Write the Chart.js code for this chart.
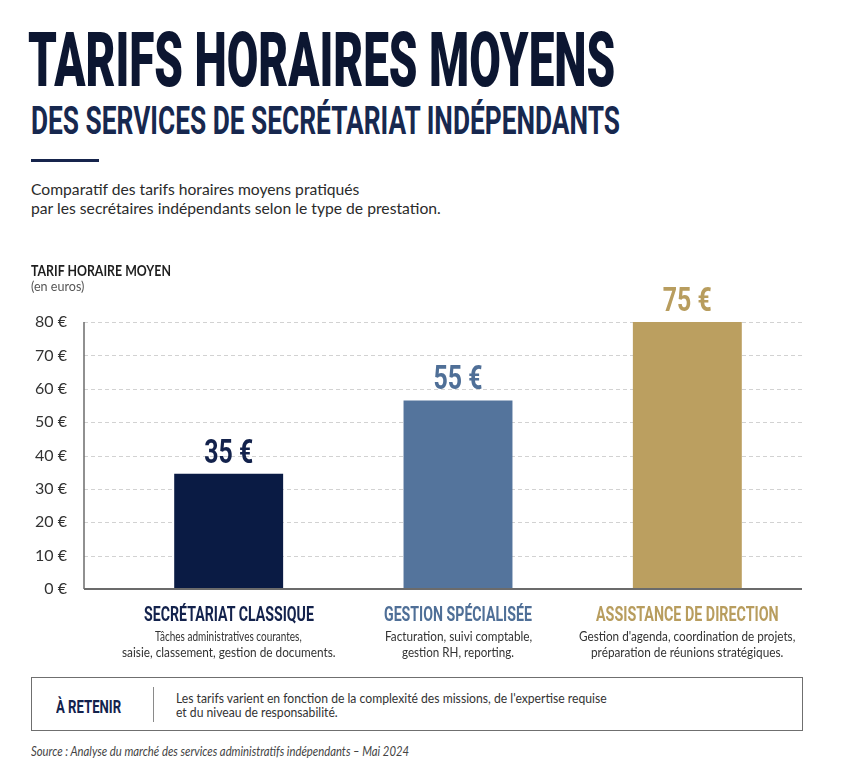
<!DOCTYPE html>
<html>
<head>
<meta charset="utf-8">
<script src="https://cdn.jsdelivr.net/npm/chart.js@4.4.1/dist/chart.umd.min.js"></script>
<style>
  html, body { margin: 0; padding: 0; background: #fff; }
  body { width: 841px; height: 768px; position: relative; overflow: hidden; font-family: Lato, sans-serif; }
  .t { position: absolute; white-space: nowrap; line-height: 1; transform-origin: 0 0; }
  .mark { display: inline-block; width: 0; height: 0; vertical-align: baseline; }
  #wrap { position: absolute; left: 0; top: 250px; width: 841px; height: 410px; }
  #rule { position: absolute; left: 31px; top: 159px; width: 68px; height: 3px; background: #16244c; }
  #box { position: absolute; left: 31px; top: 677px; width: 770px; height: 52px; border: 1.5px solid #6f6f6f; }
  #divider { position: absolute; left: 153px; top: 687px; width: 1px; height: 35px; background: #8a8a8a; }
</style>
</head>
<body>
<div id="rule"></div>
<div id="box"></div>
<div id="divider"></div>
<div id="wrap"><canvas id="chart" width="841" height="410"></canvas></div>
<script>
  // data
  const categories = ["SECRÉTARIAT CLASSIQUE", "GESTION SPÉCIALISÉE", "ASSISTANCE DE DIRECTION"];
  const barValues = [34.5, 56.5, 80];
  const valueLabels = ["35 €", "55 €", "75 €"];
  const descriptions = [
    ["Tâches administratives courantes,", "saisie, classement, gestion de documents."],
    ["Facturation, suivi comptable,", "gestion RH, reporting."],
    ["Gestion d'agenda, coordination de projets,", "préparation de réunions stratégiques."]
  ];
  const yMin = 0, yMax = 80, yStep = 10;
  const tickSuffix = " €";

  // styles
  const barColors = ["#0a1b44", "#54749c", "#bb9f60"];
  const nameColors = ["#13224c", "#4f6f97", "#b89d5e"];
  const AXIS_X = 84;
  const LABEL_W = 49;
  const condensed = "Roboto, 'Liberation Sans', sans-serif";

  // put a text with its baseline at y, squeezed to a given width
  function put(txt, x, base, w, size, opt) {
    opt = opt || {};
    const el = document.createElement("span");
    el.className = "t";
    el.textContent = txt;
    const mk = document.createElement("i");
    mk.className = "mark";
    el.appendChild(mk);
    el.style.fontFamily = opt.family || "Lato, sans-serif";
    el.style.fontSize = size + "px";
    el.style.fontWeight = opt.weight || 400;
    el.style.fontStyle = opt.style || "normal";
    el.style.color = opt.color || "#2e2e2e";
    document.body.appendChild(el);
    const nat = el.offsetWidth;
    const off = mk.offsetTop;
    el.style.transform = "scaleX(" + (w / nat) + ")";
    el.style.left = (opt.center ? x - w / 2 : x) + "px";
    el.style.top = (base - off) + "px";
    return el;
  }

  put("TARIFS HORAIRES MOYENS", 28, 86, 587, 76, { family: condensed, weight: 900, color: "#0c1631" });
  put("DES SERVICES DE SECRÉTARIAT INDÉPENDANTS", 31, 134, 589, 39, { family: condensed, weight: 700, color: "#17284f" });
  put("Comparatif des tarifs horaires moyens pratiqués", 31, 195, 328, 16, { color: "#2b2b2b" });
  put("par les secrétaires indépendants selon le type de prestation.", 31, 214, 410, 16, { color: "#2b2b2b" });
  put("TARIF HORAIRE MOYEN", 31, 276, 140, 15, { weight: 700, color: "#1e1e1e" });
  put("(en euros)", 31, 291, 53, 13.5, { color: "#555" });
  put("À RETENIR", 56, 712.7, 65, 19, { family: condensed, weight: 700, color: "#13224c" });
  put("Les tarifs varient en fonction de la complexité des missions, de l'expertise requise", 176, 702.7, 431, 13.5, { color: "#333" });
  put("et du niveau de responsabilité.", 176, 717.3, 162, 13.5, { color: "#333" });
  put("Source : Analyse du marché des services administratifs indépendants – Mai 2024", 30.5, 756, 378, 12.5, { style: "italic", color: "#444" });

  const decor = {
    id: "decor",
    beforeDatasetsDraw(chart) {
      const { ctx, chartArea } = chart;
      const y = chart.scales.y;
      ctx.save();
      ctx.strokeStyle = "#d2d2d2";
      ctx.lineWidth = 1;
      ctx.setLineDash([4, 3]);
      y.ticks.forEach((t) => {
        if (t.value === yMin) return;
        const py = Math.round(y.getPixelForValue(t.value)) + 0.5;
        ctx.beginPath();
        ctx.moveTo(AXIS_X, py);
        ctx.lineTo(chartArea.right, py);
        ctx.stroke();
      });
      ctx.setLineDash([]);
      ctx.strokeStyle = "#6b6b6b";
      ctx.lineWidth = 1.5;
      ctx.beginPath();
      ctx.moveTo(AXIS_X, y.getPixelForValue(yMax));
      ctx.lineTo(AXIS_X, y.getPixelForValue(yMin));
      ctx.stroke();
      ctx.restore();
    },
    afterDatasetsDraw(chart) {
      const { ctx, chartArea } = chart;
      const y = chart.scales.y;
      ctx.save();
      // base line
      ctx.strokeStyle = "#6b6b6b";
      ctx.lineWidth = 2;
      const by = y.getPixelForValue(yMin);
      ctx.beginPath();
      ctx.moveTo(AXIS_X, by);
      ctx.lineTo(chartArea.right, by);
      ctx.stroke();
      // value labels over the bars
      ctx.font = "700 34px " + condensed;
      const sx = LABEL_W / ctx.measureText("55 €").width;
      ctx.textAlign = "center";
      ctx.textBaseline = "alphabetic";
      chart.getDatasetMeta(0).data.forEach((bar, i) => {
        ctx.save();
        ctx.translate(bar.x, bar.y - 11);
        ctx.scale(sx, 1);
        ctx.fillStyle = nameColors[i];
        ctx.fillText(valueLabels[i], 0, 0);
        ctx.restore();
      });
      ctx.restore();
    }
  };

  const chart = new Chart(document.getElementById("chart"), {
    type: "bar",
    data: {
      labels: categories,
      datasets: [{
        data: barValues,
        backgroundColor: barColors,
        borderWidth: 0,
        barPercentage: 0.475,
        categoryPercentage: 1
      }]
    },
    options: {
      responsive: false,
      animation: false,
      devicePixelRatio: 1,
      // bottom padding must stay above tick padding + half a label
      layout: { padding: { top: 72, bottom: 71, left: 0, right: 39 } },
      plugins: { legend: { display: false }, tooltip: { enabled: false } },
      scales: {
        x: { display: false },
        y: {
          min: yMin,
          max: yMax,
          afterFit: (s) => { s.width = 114; },
          grid: { display: false, drawTicks: false },
          border: { display: false },
          ticks: {
            stepSize: yStep,
            padding: 47,
            color: "#333",
            font: { family: "Lato", size: 16 },
            callback: (v) => v + tickSuffix
          }
        }
      }
    },
    plugins: [decor]
  });

  // category names and descriptions under each bar
  chart.getDatasetMeta(0).data.forEach((bar, i) => {
    const nameW = [170, 148, 183][i];
    const descW = [[147, 214], [147, 112], [216, 192]][i];
    put(categories[i], bar.x, 621, nameW, 20, { family: condensed, weight: 700, color: nameColors[i], center: true });
    put(descriptions[i][0], bar.x, 641, descW[0], 14, { color: "#333", center: true });
    put(descriptions[i][1], bar.x, 657, descW[1], 14, { color: "#333", center: true });
  });
</script>
</body>
</html>
